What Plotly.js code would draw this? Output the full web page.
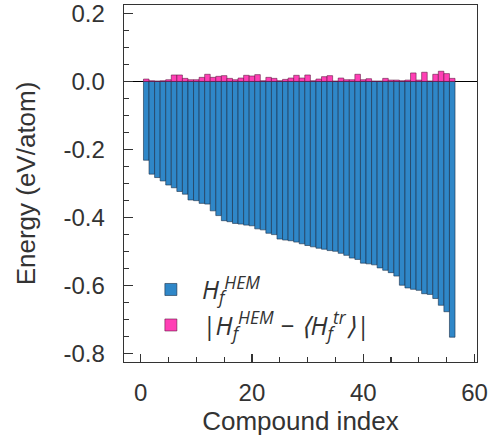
<!DOCTYPE html>
<html>
<head>
<meta charset="utf-8">
<script src="https://cdn.plot.ly/plotly-3.0.1.min.js"></script>
<style>html,body{margin:0;padding:0;background:#fff;}#chart{width:488px;height:437px;}</style>
</head>
<body>
<div id="chart"></div>
<script>
// Compound index (categories)
const compoundIndex = [1,2,3,4,5,6,7,8,9,10,11,12,13,14,15,16,17,18,19,20,
  21,22,23,24,25,26,27,28,29,30,31,32,33,34,35,36,37,38,39,40,
  41,42,43,44,45,46,47,48,49,50,51,52,53,54,55,56];

// H_f^HEM (eV/atom)
const hfHEM = [
  -0.232, -0.273, -0.283, -0.293, -0.305, -0.313, -0.324, -0.332, -0.349, -0.351,
  -0.359, -0.361, -0.381, -0.395, -0.410, -0.413, -0.418, -0.420, -0.423, -0.425,
  -0.434, -0.437, -0.447, -0.451, -0.464, -0.467, -0.469, -0.473, -0.478, -0.483,
  -0.487, -0.491, -0.494, -0.498, -0.500, -0.506, -0.512, -0.520, -0.524, -0.535,
  -0.537, -0.540, -0.549, -0.556, -0.563, -0.573, -0.600, -0.608, -0.612, -0.615,
  -0.625, -0.627, -0.639, -0.659, -0.678, -0.753];

// |H_f^HEM - <H_f^tr>| (eV/atom)
const absDiff = [
  0.007, 0.002, 0.001, 0.002, 0.005, 0.019, 0.019, 0.009, 0.005, 0.005,
  0.012, 0.021, 0.012, 0.015, 0.017, 0.009, 0.005, 0.010, 0.018, 0.016,
  0.020, 0.002, 0.012, 0.009, 0.002, 0.006, 0.010, 0.018, 0.010, 0.019,
  0.002, 0.007, 0.014, 0.017, 0.001, 0.010, 0.005, 0.005, 0.021, 0.005,
  0.008, 0.001, 0.001, 0.009, 0.004, 0.004, 0.002, 0.004, 0.025, 0.004,
  0.027, 0.001, 0.021, 0.030, 0.023, 0.009];

// Tick labels
const yTickVals = [-0.8, -0.6, -0.4, -0.2, 0.0, 0.2];
const yTickText = ['-0.8', '-0.6', '-0.4', '-0.2', '0.0', '0.2'];
const xTickVals = [0, 20, 40, 60];
const xTickText = ['0', '20', '40', '60'];

const seriesNames = [
  '<i>H<sub>f</sub><sup>HEM</sup></i>',
  '<i>|H<sub>f</sub><sup>HEM</sup> − ⟨H<sub>f</sub><sup>tr</sup>⟩|</i>'
];

const traces = [
  {
    type: 'bar', x: compoundIndex, y: hfHEM, name: seriesNames[0], width: 1,
    marker: {color: '#2F87C8', line: {color: 'rgba(25,45,70,0.75)', width: 0.8}}
  },
  {
    type: 'bar', x: compoundIndex, y: absDiff, name: seriesNames[1], width: 1,
    marker: {color: '#FF3FB5', line: {color: 'rgba(90,20,60,0.7)', width: 0.8}}
  }
];

const axisColor = '#333';
const textFont = 'Liberation Sans, Arial, sans-serif';
const layout = {
  width: 488, height: 437,
  margin: {l: 124, r: 11, t: 5, b: 75},
  paper_bgcolor: '#fff', plot_bgcolor: '#fff',
  barmode: 'relative',
  bargap: 0,
  font: {family: textFont, color: '#333'},
  showlegend: true,
  legend: {
    x: 0.045, y: 0.04, xanchor: 'left', yanchor: 'bottom',
    bgcolor: 'rgba(0,0,0,0)', borderwidth: 0,
    font: {family: 'Open Sans', size: 25, color: '#333'},
    tracegroupgap: 0, itemwidth: 52
  },
  xaxis: {
    range: [-3, 60.45],
    tickvals: xTickVals, ticktext: xTickText,
    ticks: 'inside', ticklen: 8, tickwidth: 1.3, tickcolor: axisColor,
    minor: {dtick: 5, ticks: 'inside', ticklen: 5, tickwidth: 1.1, tickcolor: axisColor},
    showline: true, linecolor: axisColor, linewidth: 1.4, mirror: true,
    showgrid: false, zeroline: false,
    tickfont: {family: textFont, size: 24, color: '#333'},
    ticklabelstandoff: 9,
    ticklabeloverflow: 'allow',
    title: {text: 'Compound index', font: {family: textFont, size: 26, color: '#333'}, standoff: 1}
  },
  yaxis: {
    range: [-0.826, 0.225],
    tickvals: yTickVals, ticktext: yTickText,
    ticks: 'inside', ticklen: 9, tickwidth: 1.3, tickcolor: axisColor,
    minor: {dtick: 0.05, ticks: 'inside', ticklen: 5, tickwidth: 1.1, tickcolor: axisColor},
    showline: true, linecolor: axisColor, linewidth: 1.4, mirror: true,
    showgrid: false,
    zeroline: true, zerolinecolor: '#000', zerolinewidth: 1,
    tickfont: {family: textFont, size: 24, color: '#333'},
    ticklabelstandoff: 13,
    ticklabeloverflow: 'allow',
    title: {text: 'Energy (eV/atom)', font: {family: textFont, size: 26, color: '#333'}, standoff: 20}
  }
};

Plotly.newPlot('chart', traces, layout, {displayModeBar: false, staticPlot: true});
</script>
</body>
</html>
